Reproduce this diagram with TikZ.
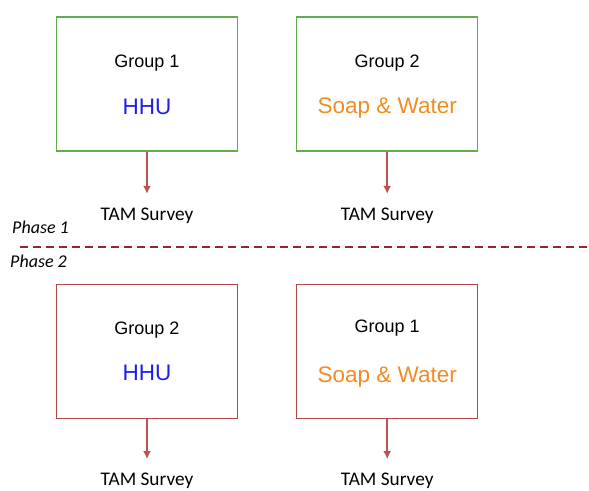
\documentclass[tikz,border=0pt]{standalone}
\usepackage{fontspec}
\setmainfont{Liberation Sans}
\newfontfamily\calibri{Carlito}
\usetikzlibrary{positioning, arrows.meta}
\definecolor{boxgreen}{RGB}{100,172,82}
\definecolor{boxred}{RGB}{178,72,72}
\definecolor{arrowred}{RGB}{190,82,82}
\definecolor{phasered}{RGB}{150,40,45}
\definecolor{hhublue}{RGB}{30,30,235}
\definecolor{soaporange}{RGB}{240,140,35}

\begin{document}
\begin{tikzpicture}[x=1pt, y=-1pt,
    groupbox/.style={rectangle,
      draw=#1,
      line width=1.2pt,
      minimum width=181pt,
      minimum height=134pt,
      inner sep=0pt},
    grouptitle/.style={font=\fontsize{18}{20}\selectfont, inner sep=0pt},
    treatment/.style={font=\fontsize{22.5}{26}\selectfont, text=#1, inner sep=0pt},
    survey/.style={font=\calibri\fontsize{19.3}{22}\selectfont, inner sep=0pt},
    phase/.style={font=\calibri\itshape\fontsize{18}{22}\selectfont, inner sep=0pt},
    surveyarrow/.style={draw=arrowred, line width=1.7pt,
      -{Latex[length=8pt, width=8pt]}, shorten >=14pt}]
  \useasboundingbox (0,0) rectangle (589,490);

  % PHASE 1

  \node [groupbox=boxgreen] (box1) at (147,84) {};
  \node [groupbox=boxgreen, right=58pt of box1] (box2) {};

  \node [grouptitle, below=51pt of box1.north, anchor=base] (title1) {Group 1};
  \node [treatment=hhublue, below=98pt of box1.north, anchor=base] (treat1) {HHU};
  \node [grouptitle, below=51pt of box2.north, anchor=base] (title2) {Group 2};
  \node [treatment=soaporange, below=97pt of box2.north, anchor=base] (treat2) {Soap \& Water};

  \node [survey, below=69pt of box1.south, anchor=base] (survey1) {TAM Survey};
  \node [survey, below=69pt of box2.south, anchor=base] (survey2) {TAM Survey};

  \draw [surveyarrow] (box1.south) -- (survey1.north);
  \draw [surveyarrow] (box2.south) -- (survey2.north);

  % DIVIDER

  \node [phase, anchor=base west] (phase1) at (12,233) {Phase 1};
  \node [phase, anchor=base west] (phase2) at (10,267) {Phase 2};
  \coordinate (divleft) at (20,247);
  \coordinate (divright) at (589,247);
  \draw [phasered, line width=2.4pt, dash pattern=on 8pt off 5pt] (divleft) -- (divright);

  % PHASE 2

  \node [groupbox=boxred, below=132pt of box1] (box3) {};
  \node [groupbox=boxred, right=58pt of box3] (box4) {};

  \node [grouptitle, below=51pt of box3.north, anchor=base] (title3) {Group 2};
  \node [treatment=hhublue, below=97pt of box3.north, anchor=base] (treat3) {HHU};
  \node [grouptitle, below=49pt of box4.north, anchor=base] (title4) {Group 1};
  \node [treatment=soaporange, below=99pt of box4.north, anchor=base] (treat4) {Soap \& Water};

  \node [survey, below=67pt of box3.south, anchor=base] (survey3) {TAM Survey};
  \node [survey, below=67pt of box4.south, anchor=base] (survey4) {TAM Survey};

  \draw [surveyarrow] (box3.south) -- (survey3.north);
  \draw [surveyarrow] (box4.south) -- (survey4.north);

\end{tikzpicture}
\end{document}
